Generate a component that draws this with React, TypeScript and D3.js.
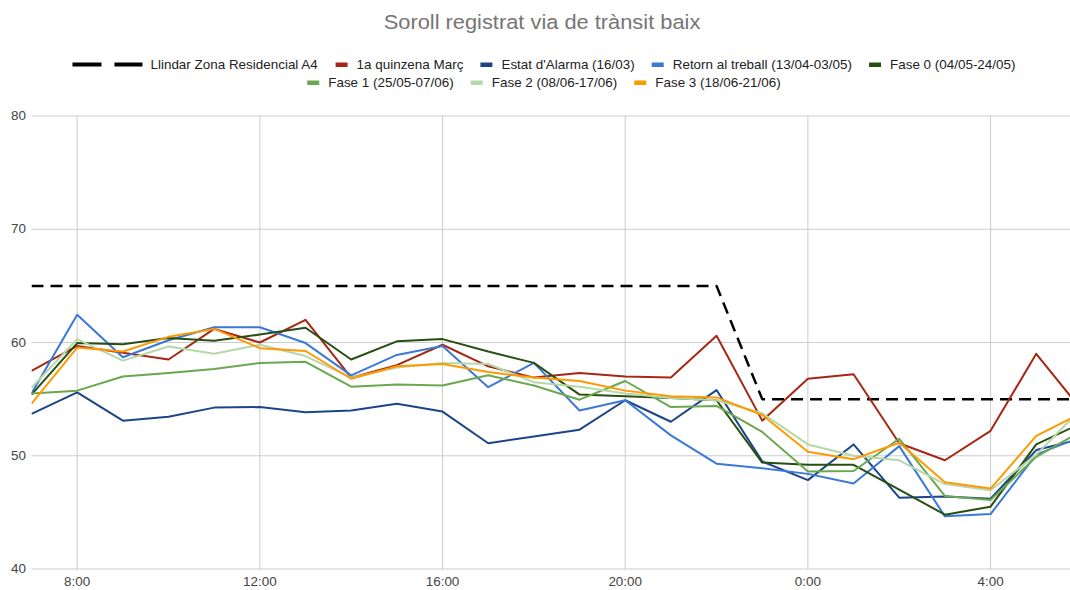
import React from 'react';
import * as d3 from 'd3';

// hours of the day, 7:00 through 6:00 the next morning (24 = 0:00)
const hours = [7, 8, 9, 10, 11, 12, 13, 14, 15, 16, 17, 18, 19, 20, 21, 22, 23, 24, 25, 26, 27, 28, 29, 30];
const tickHours = [8, 12, 16, 20, 24, 28];
const yTicks = [40, 50, 60, 70, 80];

const llindar = [65, 65, 65, 65, 65, 65, 65, 65, 65, 65, 65, 65, 65, 65, 65, 65, 55, 55, 55, 55, 55, 55, 55, 55];
const marc = [57.5, 59.7, 59.1, 58.5, 61.2, 60.0, 62.0, 56.9, 58.0, 59.8, 57.9, 56.9, 57.3, 57.0, 56.9, 60.6, 53.1, 56.8, 57.2, 51.1, 49.6, 52.2, 59.0, 54.0];
const alarma = [53.7, 55.6, 53.1, 53.45, 54.25, 54.3, 53.85, 54.0, 54.6, 53.9, 51.1, 51.7, 52.3, 54.9, 53.0, 55.8, 49.5, 47.85, 51.0, 46.3, 46.4, 46.2, 50.5, 51.5];
const retorn = [55.5, 62.45, 58.7, 60.2, 61.35, 61.35, 59.95, 57.1, 58.9, 59.7, 56.05, 58.2, 54.0, 54.9, 51.8, 49.3, 48.9, 48.4, 47.55, 50.85, 44.65, 44.85, 50.1, 51.7];
const fase0 = [55.4, 59.95, 59.85, 60.4, 60.15, 60.7, 61.3, 58.5, 60.1, 60.3, 59.2, 58.2, 55.4, 55.25, 55.1, 54.9, 49.4, 49.2, 49.2, 47.0, 44.8, 45.5, 51.0, 52.9];
const fase1 = [55.5, 55.75, 57.0, 57.3, 57.65, 58.2, 58.3, 56.1, 56.3, 56.2, 57.1, 56.2, 54.95, 56.6, 54.3, 54.4, 52.1, 48.6, 48.65, 51.5, 46.45, 46.1, 49.9, 52.2];
const fase2 = [56.0, 60.3, 58.4, 59.65, 59.0, 59.8, 58.8, 56.9, 57.8, 58.2, 58.1, 56.5, 56.1, 55.5, 55.1, 54.9, 53.75, 51.0, 50.0, 49.6, 47.5, 46.95, 50.1, 54.2];
const fase3 = [54.6, 59.55, 59.2, 60.5, 61.2, 59.5, 59.25, 56.8, 57.9, 58.1, 57.4, 56.9, 56.6, 55.75, 55.25, 55.15, 53.6, 50.35, 49.7, 51.15, 47.65, 47.1, 51.75, 53.8];

const seriesNames = [
  'Llindar Zona Residencial A4',
  '1a quinzena Març',
  "Estat d'Alarma (16/03)",
  'Retorn al treball (13/04-03/05)',
  'Fase 0 (04/05-24/05)',
  'Fase 1 (25/05-07/06)',
  'Fase 2 (08/06-17/06)',
  'Fase 3 (18/06-21/06)',
];
const seriesValues = [llindar, marc, alarma, retorn, fase0, fase1, fase2, fase3];
const seriesColors = ['#000000', '#a52714', '#1c4587', '#3c78d8', '#274e13', '#6aa84f', '#b6d7a8', '#ff9900'];

const W = 1070;
const H = 590;
const FONT = 'Arial, "Liberation Sans", sans-serif';
// the reference glyphs are a bit wider than Arial's
const SX = 1.12;

let ctx: CanvasRenderingContext2D | null = null;
function textWidth(s: string, size = 12) {
  if (!ctx) ctx = document.createElement('canvas').getContext('2d');
  ctx!.font = `${size}px ${FONT}`;
  return ctx!.measureText(s).width * SX;
}

function Label({ x, y, anchor = 'start', size = 12, fill = '#444', children }: any) {
  return (
    <text transform={`translate(${x},${y}) scale(${SX},1)`} textAnchor={anchor} fontSize={size} fill={fill}>
      {children}
    </text>
  );
}

export default function App() {
  const x = d3.scaleLinear().domain([7, 30]).range([31.5, 31.5 + 23 * 45.67]);
  const y = d3.scaleLinear().domain([40, 80]).range([569, 116]);
  const left = 31.5;
  const right = W;

  const line = d3
    .line<number>()
    .x((d, i) => x(hours[i]))
    .y(d => y(d));

  // legend: two centred rows
  const rows = [[0, 1, 2, 3, 4], [5, 6, 7]];
  const iconW = (i: number) => (i === 0 ? 70 + 8 : 12 + 9);
  const itemWidth = (i: number) => iconW(i) + textWidth(seriesNames[i]);
  const gap = 17;
  const legendCenter = 544;
  const legend = rows.map((row, r) => {
    const total = d3.sum(row, itemWidth) + gap * (row.length - 1);
    let cx = legendCenter - total / 2;
    return row.map(i => {
      const item = { i, x: cx, y: 64.5 + r * 18 };
      cx += itemWidth(i) + gap;
      return item;
    });
  });

  return (
    <div style={{ position: 'absolute', left: 0, top: 0 }}>
      <svg width={W} height={H} style={{ display: 'block', background: '#fff' }} fontFamily={FONT}>
        <defs>
          <clipPath id="plot">
            <rect x={left} y={100} width={right - left} height={480} />
          </clipPath>
        </defs>
        <Label x={542} y={29} anchor="middle" size={19.5} fill="#757575">
          Soroll registrat via de trànsit baix
        </Label>

        {legend.flat().map(({ i, x: lx, y: ly }) => (
          <g key={i}>
            {i === 0 ? (
              <line x1={lx} x2={lx + 70} y1={ly} y2={ly} stroke="#000" strokeWidth={4} strokeDasharray="29 13" />
            ) : (
              <rect x={lx} y={ly - 2} width={12} height={4.5} fill={seriesColors[i]} />
            )}
            <Label x={lx + iconW(i)} y={ly + 4} fill="#222">
              {seriesNames[i]}
            </Label>
          </g>
        ))}

        <g>
          {yTicks.map(t => (
            <g key={t}>
              <line x1={left} x2={right} y1={y(t)} y2={y(t)} stroke="#cccccc" strokeWidth={1} />
              <Label x={26} y={y(t) + 4} anchor="end">
                {t}
              </Label>
            </g>
          ))}
          {tickHours.map(h => (
            <g key={h}>
              <line x1={x(h)} x2={x(h)} y1={y(80)} y2={y(40)} stroke="#cccccc" strokeWidth={1} />
              <Label x={x(h)} y={586} anchor="middle">
                {`${h % 24}:00`}
              </Label>
            </g>
          ))}
        </g>

        <g clipPath="url(#plot)">
          {seriesValues.map((vals, i) => (
            <path
              key={i}
              d={line(vals) || ''}
              fill="none"
              stroke={seriesColors[i]}
              strokeWidth={i === 0 ? 2.5 : 2}
              strokeDasharray={i === 0 ? '12 7' : undefined}
              strokeLinejoin="round"
            />
          ))}
        </g>
      </svg>
    </div>
  );
}
